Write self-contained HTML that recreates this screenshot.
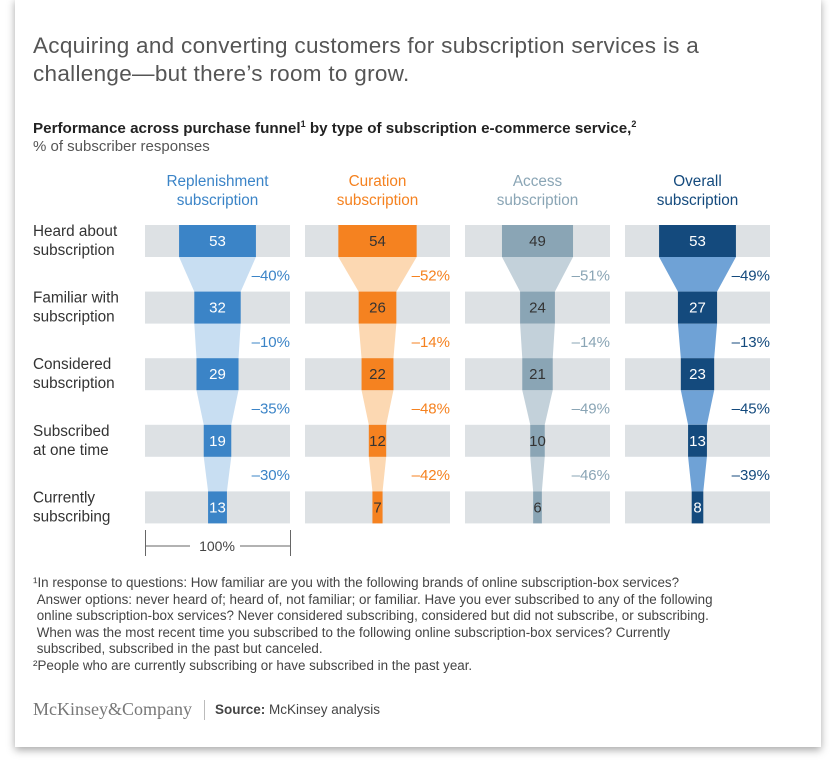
<!DOCTYPE html>
<html><head><meta charset="utf-8"><style>
body{margin:0;background:#fff;width:830px;height:763px;overflow:hidden;font-family:"Liberation Sans",Arial,sans-serif}
#card{position:absolute;left:15px;top:-2px;width:806px;height:749px;background:#fff;box-shadow:0 3px 8px rgba(0,0,0,.35)}
.t{position:absolute;white-space:nowrap}
</style></head><body>
<div id="card"></div>
<div class="t" style="left:33px;top:32px;font-size:22.5px;letter-spacing:0.3px;color:#555;line-height:28px">Acquiring and converting customers for subscription services is a<br>challenge—but there’s room to grow.</div>
<div class="t" style="left:33px;top:119px;font-size:15.2px;color:#222;font-weight:bold">Performance across purchase funnel<sup style="font-size:9px">1</sup> by type of subscription e-commerce service,<sup style="font-size:9px">2</sup></div>
<div class="t" style="left:33px;top:138px;font-size:15px;color:#555">% of subscriber responses</div>
<svg id="chart" width="830" height="763" style="position:absolute;left:0;top:0"></svg>
<div class="t" style="left:33px;top:575px;font-size:13.4px;color:#444;line-height:16.6px">¹In response to questions: How familiar are you with the following brands of online subscription-box services?<br>&nbsp;Answer options: never heard of; heard of, not familiar; or familiar. Have you ever subscribed to any of the following<br>&nbsp;online subscription-box services? Never considered subscribing, considered but did not subscribe, or subscribing.<br>&nbsp;When was the most recent time you subscribed to the following online subscription-box services? Currently<br>&nbsp;subscribed, subscribed in the past but canceled.<br>²People who are currently subscribing or have subscribed in the past year.</div>
<div class="t" style="left:33px;top:699px;font-family:'Liberation Serif',serif;font-size:18px;color:#777">McKinsey&amp;Company</div>
<div class="t" style="left:204px;top:700px;width:1px;height:20px;background:#bbb"></div>
<div class="t" style="left:215px;top:702px;font-size:13.5px;color:#444"><b>Source:</b> McKinsey analysis</div>
<script>
const stages=["Heard about|subscription","Familiar with|subscription","Considered|subscription","Subscribed|at one time","Currently|subscribing"];
const seriesNames=["Replenishment|subscription","Curation|subscription","Access|subscription","Overall|subscription"];
const replenishment=[53,32,29,19,13];
const curation=[54,26,22,12,7];
const access=[49,24,21,10,6];
const overall=[53,27,23,13,8];
const dropReplenishment=["–40%","–10%","–35%","–30%"];
const dropCuration=["–52%","–14%","–48%","–42%"];
const dropAccess=["–51%","–14%","–49%","–46%"];
const dropOverall=["–49%","–13%","–45%","–39%"];
const series=[replenishment,curation,access,overall];
const drops=[dropReplenishment,dropCuration,dropAccess,dropOverall];
const dark=["#3b84c7","#f58220","#8aa5b5","#144a7d"];
const light=["#c8def2","#fcd8b2","#c3d1da","#6fa2d6"];
const txt=["#fff","#333","#333","#fff"];
const hdr=["#3b84c7","#f58220","#8aa5b5","#144a7d"];
const svg=document.getElementById('chart');const NS='http://www.w3.org/2000/svg';
function mk(t,a,p){const e=document.createElementNS(NS,t);for(const k in a)e.setAttribute(k,a[k]);(p||svg).appendChild(e);return e;}
const panelX=i=>145+i*160, panelW=145;
const rowY=j=>225+j*66.6, rowH=32;
const xs=v=>v/100*panelW;
stages.forEach((s,j)=>{const t=mk('text',{x:33,y:rowY(j)+11,'font-size':15.3,fill:'#333'});

s.split('|').forEach((l,k)=>{const ts=mk('tspan',{x:33,dy:k?19:0},t);ts.textContent=l;});});
series.forEach((vals,i)=>{const cx=panelX(i)+panelW/2;
const h=mk('text',{x:cx,y:186,'font-size':15.3,fill:hdr[i],'text-anchor':'middle'});

seriesNames[i].split('|').forEach((l,k)=>{const ts=mk('tspan',{x:cx,dy:k?19:0},h);ts.textContent=l;});
vals.forEach((v,j)=>{const bg=mk('rect',{x:panelX(i),y:rowY(j),width:panelW,height:rowH,fill:'#dde1e4'});
});
for(let j=0;j<vals.length-1;j++){const a=xs(vals[j])/2,b=xs(vals[j+1])/2,y1=rowY(j)+rowH,y2=rowY(j+1);
const p=mk('polygon',{points:`${cx-a},${y1} ${cx+a},${y1} ${cx+b},${y2} ${cx-b},${y2}`,fill:light[i]});

const lb=mk('text',{x:panelX(i)+panelW,y:(y1+y2)/2+6,'font-size':15,fill:dark[i],'text-anchor':'end'});
lb.textContent=drops[i][j];}
vals.forEach((v,j)=>{const w=xs(v);const r=mk('rect',{x:cx-w/2,y:rowY(j),width:w,height:rowH,fill:dark[i]});

const t=mk('text',{x:cx,y:rowY(j)+21,'font-size':15,fill:txt[i],'text-anchor':'middle'});
t.textContent=v;});});
const g=mk('g',{stroke:'#666','stroke-width':1});
mk('line',{x1:145.5,y1:530,x2:145.5,y2:556},g);mk('line',{x1:290.5,y1:530,x2:290.5,y2:556},g);
mk('line',{x1:146,y1:546,x2:190,y2:546},g);mk('line',{x1:240,y1:546,x2:290,y2:546},g);
const st=mk('text',{x:217,y:551,'font-size':14,fill:'#444','text-anchor':'middle'});st.textContent='100%';
</script>
</body></html>
